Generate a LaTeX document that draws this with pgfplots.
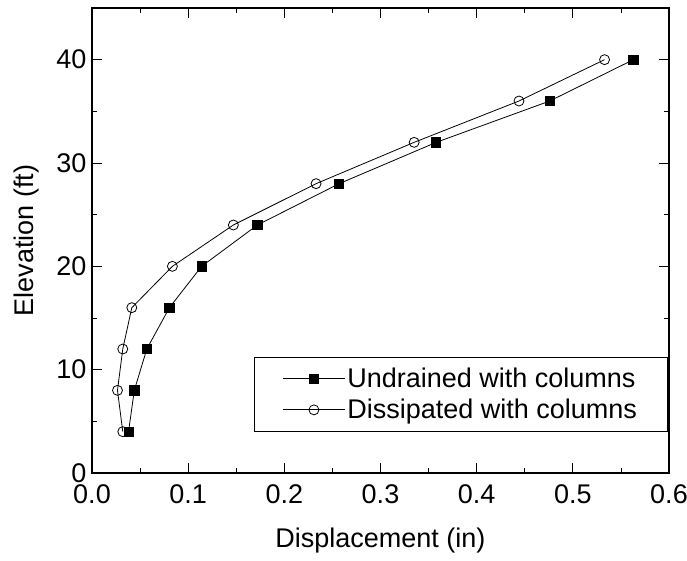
\documentclass[border=0pt]{standalone}
\usepackage{fontspec}
\setmainfont{Liberation Sans}
\usepackage{pgfplots}
\pgfplotsset{compat=1.18}
\begin{document}
\begin{tikzpicture}[x=1pt,y=1pt]
\useasboundingbox (-92,-87) rectangle (595,473);
\begin{axis}[
  at={(0,0)}, anchor=south west,
  scale only axis,
  width=577pt, height=465pt,
  xmin=0, xmax=0.6, ymin=0, ymax=45,
  xtick={0,0.1,...,0.6},
  ytick={0,10,20,30,40},
  minor x tick num=1, minor y tick num=1,
  tick align=inside,
  major tick length=10pt, minor tick length=5pt,
  tick style={line width=0.8pt, black},
  axis line style={line width=1.2pt},
  font=\fontsize{27}{31}\selectfont,
  /pgf/number format/assume math mode=true,
  xticklabel style={yshift=-8pt, /pgf/number format/.cd, fixed, fixed zerofill, precision=1},
  yticklabel style={xshift=-2pt, /pgf/number format/.cd, fixed},
  xlabel={Displacement (in)},
  ylabel={Elevation (ft)},
  xlabel style={at={(axis description cs:0.5,-0.145)}, anchor=center},
  ylabel style={at={(axis description cs:-0.113,0.5)}, anchor=center},
  legend style={at={(rel axis cs:0.997,0.2495)}, anchor=north east,
    draw=black, line width=0.6pt, inner xsep=28pt, inner ysep=9pt,
    row sep=6pt, font=\fontsize{27}{31}\selectfont,
    /tikz/every even column/.append style={column sep=6pt}},
  legend cell align=left,
  legend image code/.code={%
    \draw[mark repeat=2,mark phase=2,#1] plot coordinates {(0pt,0pt) (31pt,0pt) (62pt,0pt)};},
]
\addplot[black, line width=0.8pt, mark=square*, mark size=4.6pt, mark options={fill=black, solid}]
  coordinates {
  (0.038,4) (0.044,8) (0.057,12) (0.0805,16) (0.114,20) (0.172,24)
  (0.257,28) (0.358,32) (0.476,36) (0.563,40)
  };
\addlegendentry{Undrained with columns}
\addplot[black, line width=0.8pt, mark=o, mark size=5pt, mark options={fill=white, solid}]
  coordinates {
  (0.032,4) (0.0265,8) (0.032,12) (0.0414,16) (0.0836,20) (0.147,24)
  (0.233,28) (0.335,32) (0.444,36) (0.533,40)
  };
\addlegendentry{Dissipated with columns}
\end{axis}
\end{tikzpicture}
\end{document}
